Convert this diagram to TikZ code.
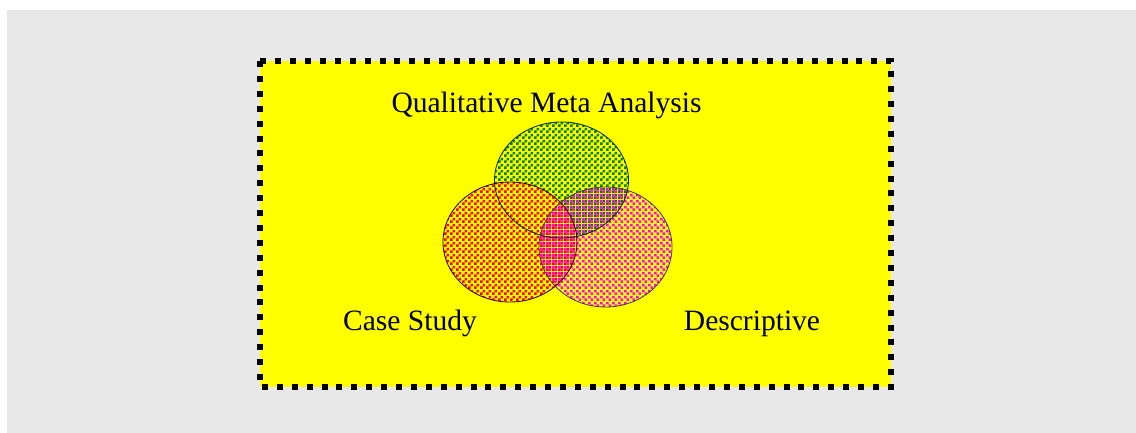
\documentclass[tikz,border=0pt]{standalone}
\usepackage{fontspec}
\setmainfont{Liberation Serif}
\usetikzlibrary{patterns}

\definecolor{fondgris}{RGB}{232,232,232}
\definecolor{jaune}{RGB}{255,255,0}
\definecolor{vertfonce}{RGB}{0,128,0}
\definecolor{rouge}{RGB}{255,0,0}
\definecolor{rose}{RGB}{255,0,255}

\pgfdeclarepatternformonly{damier}{\pgfpointorigin}{\pgfqpoint{4.27pt}{4.27pt}}{\pgfqpoint{4.27pt}{4.27pt}}{
  \pgfpathrectangle{\pgfpointorigin}{\pgfqpoint{2.135pt}{2.135pt}}
  \pgfpathrectangle{\pgfqpoint{2.135pt}{2.135pt}}{\pgfqpoint{2.135pt}{2.135pt}}
  \pgfusepath{fill}}
\pgfdeclarepatternformonly{damierinv}{\pgfpointorigin}{\pgfqpoint{4.27pt}{4.27pt}}{\pgfqpoint{4.27pt}{4.27pt}}{
  \pgfpathrectangle{\pgfqpoint{2.135pt}{0pt}}{\pgfqpoint{2.135pt}{2.135pt}}
  \pgfpathrectangle{\pgfqpoint{0pt}{2.135pt}}{\pgfqpoint{2.135pt}{2.135pt}}
  \pgfusepath{fill}}

\begin{document}
\begin{tikzpicture}[x=0.025cm, y=-0.025cm]
\tikzset{etiquette/.style={anchor=base, inner sep=0pt, font=\fontsize{21}{25}\selectfont}}
\useasboundingbox (0,0) rectangle (1136,433);
\fill[fondgris] (7,10) rectangle (1136,433);
\fill[jaune] (260,61) rectangle (891,387);
\draw[line width=0.15cm, dash pattern=on 0.15cm off 0.2225cm] (260,61) rectangle (891,387);
% les trois ensembles
\coordinate (Q) at (561.5,180);
\coordinate (C) at (510,242);
\coordinate (D) at (605.5,247);
\fill[jaune] (Q) ellipse (67 and 58);
\fill[pattern=damier, pattern color=vertfonce] (Q) ellipse (67 and 58);
\fill[jaune] (C) ellipse (67 and 60);
\fill[pattern=damier, pattern color=rouge] (C) ellipse (67 and 60);
\fill[pattern=damierinv, pattern color=rose] (D) ellipse (66.5 and 60);
\draw[black!80!green, line width=0.6pt] (Q) ellipse (67 and 58);
\draw[black!80!red, line width=0.6pt] (C) ellipse (67 and 60);
\draw[black!80!magenta, line width=0.6pt] (D) ellipse (66.5 and 60);
% les noms
\node[etiquette] (qual) at (546.5,112) {Qualitative Meta Analysis};
\node[etiquette] (cas) at (410,330) {Case Study};
\node[etiquette] (desc) at (752,330) {Descriptive};
\end{tikzpicture}
\end{document}
